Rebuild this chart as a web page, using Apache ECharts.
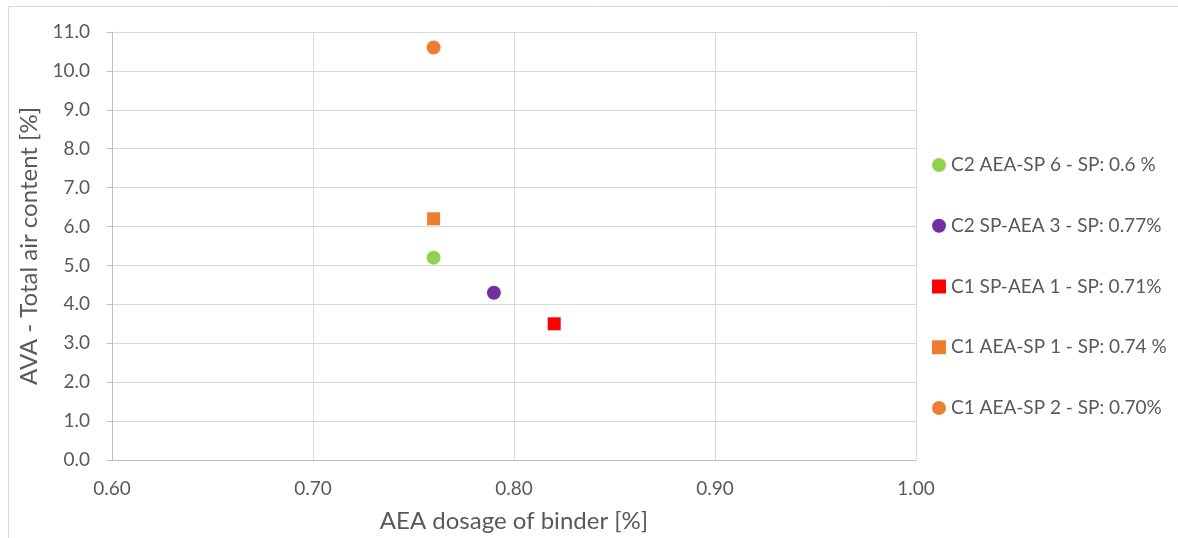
<!DOCTYPE html>
<html>
<head>
<meta charset="utf-8">
<script src="https://cdn.jsdelivr.net/npm/echarts@6/dist/echarts.min.js"></script>
<style>
html,body{margin:0;padding:0;background:#fff;}
#main{width:1178px;height:538px;}
</style>
</head>
<body>
<div id="main"></div>
<script>
// Data
const seriesNames = [
  'C2 AEA-SP 6 - SP: 0.6 %',
  'C2 SP-AEA 3 - SP: 0.77%',
  'C1 SP-AEA 1 - SP: 0.71%',
  'C1 AEA-SP 1 - SP: 0.74 %',
  'C1 AEA-SP 2 - SP: 0.70%'
];
const aeaDosage = [0.76, 0.79, 0.82, 0.76, 0.76];
const airContent = [5.2, 4.3, 3.5, 6.2, 10.6];
const seriesColors = ['#92D050', '#7030A0', '#FF0000', '#ED7D31', '#ED7D31'];
const seriesSymbols = ['circle', 'circle', 'rect', 'rect', 'circle'];
const xAxisTitle = 'AEA dosage of binder [%]';
const yAxisTitle = 'AVA - Total air content [%]';

const FONT = 'Lato, "Open Sans", sans-serif';
const TXT = '#595959';

const chart = echarts.init(document.getElementById('main'), null, {renderer: 'canvas'});

const series = seriesNames.map((name, i) => ({
  name: name,
  type: 'scatter',
  symbol: seriesSymbols[i],
  symbolSize: seriesSymbols[i] === 'rect' ? 13 : 14,
  itemStyle: {color: seriesColors[i], opacity: 1},
  data: [[aeaDosage[i], airContent[i]]],
  z: 3
}));

chart.setOption({
  animation: false,
  backgroundColor: '#fff',
  graphic: [{
    type: 'rect',
    shape: {x: 8.5, y: 6.5, width: 1180, height: 540},
    style: {fill: 'none', stroke: '#D9D9D9', lineWidth: 1},
    silent: true
  }],
  grid: {left: 112, right: 262, top: 32, bottom: 78},
  legend: {
    orient: 'vertical',
    left: 927,
    top: 149,
    itemWidth: 14,
    itemHeight: 14,
    itemGap: 38.75,
    textStyle: {fontFamily: FONT, fontSize: 19, color: TXT, lineHeight: 22},
    data: seriesNames.map((n, i) => ({name: n, icon: seriesSymbols[i]}))
  },
  xAxis: {
    type: 'value',
    min: 0.6,
    max: 1.0,
    interval: 0.1,
    name: xAxisTitle,
    nameLocation: 'middle',
    nameGap: 49,
    nameTextStyle: {fontFamily: FONT, fontSize: 24, color: TXT},
    axisLine: {show: true, lineStyle: {color: '#BFBFBF', width: 1}},
    axisTick: {show: false},
    axisLabel: {fontFamily: FONT, fontSize: 19, color: TXT, margin: 19, formatter: v => v.toFixed(2)},
    splitLine: {show: true, lineStyle: {color: '#D9D9D9', width: 1}}
  },
  yAxis: {
    type: 'value',
    min: 0,
    max: 11,
    interval: 1,
    name: yAxisTitle,
    nameLocation: 'middle',
    nameGap: 70,
    nameTextStyle: {fontFamily: FONT, fontSize: 24, color: TXT},
    axisLine: {show: true, lineStyle: {color: '#BFBFBF', width: 1}},
    axisTick: {show: true, inside: false, length: 5, lineStyle: {color: '#BFBFBF'}},
    axisLabel: {fontFamily: FONT, fontSize: 19, color: TXT, margin: 22, formatter: v => v.toFixed(1)},
    splitLine: {show: true, lineStyle: {color: '#D9D9D9', width: 1}}
  },
  series: series
});
</script>
</body>
</html>
